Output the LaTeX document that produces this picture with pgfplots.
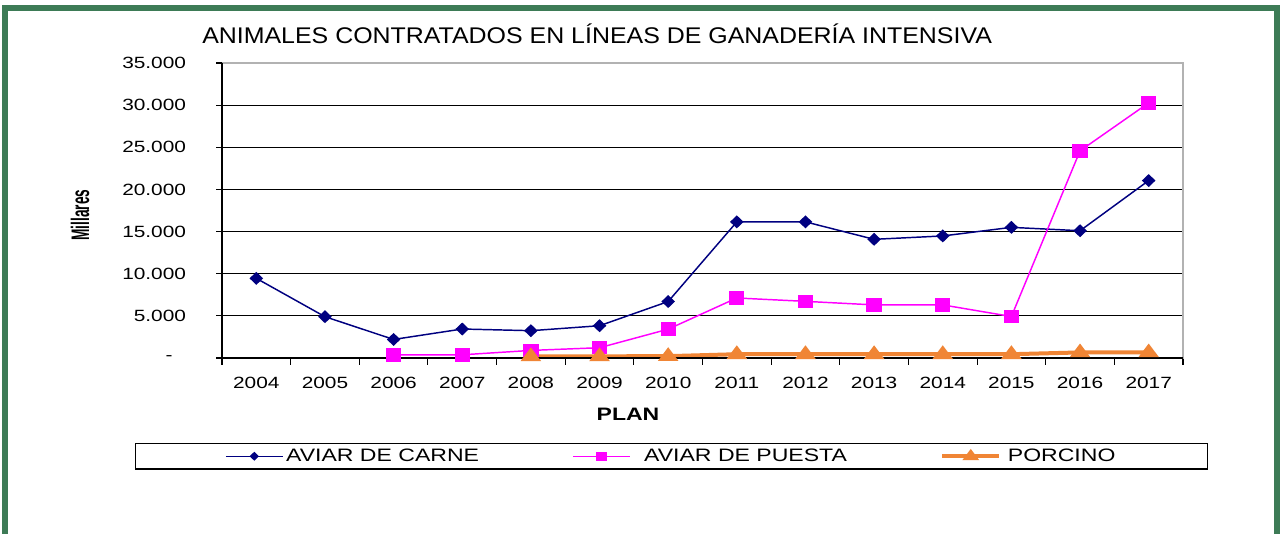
\documentclass[border=0pt]{standalone}
\usepackage{fontspec}
\setmainfont[FakeStretch=1.28]{Liberation Sans}
\newfontfamily\titlefont[FakeStretch=1.1]{Liberation Sans}
\newfontfamily\ylabfont[FakeStretch=0.54]{Liberation Sans}
\usepackage{pgfplots}
\pgfplotsset{compat=1.18}
\definecolor{framegreen}{HTML}{3D7B56}
\definecolor{carne}{HTML}{000080}
\definecolor{puesta}{HTML}{FF00FF}
\definecolor{porcino}{HTML}{F08535}
\newcommand{\ticksize}{\fontsize{12.2pt}{14pt}\selectfont}
\newcommand{\legsize}{\fontsize{13.5pt}{15pt}\selectfont}

\begin{document}
\begin{tikzpicture}
\useasboundingbox (0,0) rectangle (961.5pt,399.75pt);
\begin{scope}
  \clip (0,0) rectangle (961.5pt,399.75pt);
  \fill[white] (0,0) rectangle (961.5pt,399.75pt);
  \draw[framegreen, line width=4.5pt] (3.75pt,-5pt) -- (3.75pt,393.75pt) -- (957.4pt,393.75pt) -- (957.4pt,-5pt);
\end{scope}

\begin{axis}[
    scale only axis,
    width=720.75pt, height=221.25pt,
    at={(166.5pt,131.25pt)}, anchor=south west,
    xmin=-0.5, xmax=13.5, ymin=0, ymax=35000,
    xtick={0,...,13},
    xticklabels={2004,2005,2006,2007,2008,2009,2010,2011,2012,2013,2014,2015,2016,2017},
    minor xtick={-0.5,0.5,...,13.5},
    major x tick style={draw=none},
    ytick={0,5000,...,30000},
    yticklabels={-\hspace*{10pt},5.000,10.000,15.000,20.000,25.000,30.000},
    extra y ticks={35000},
    extra y tick labels={35.000},
    extra y tick style={grid=none},
    ymajorgrids,
    grid style={black, line width=0.8pt},
    axis line style={draw=gray!60, line width=1pt},
    tick align=outside, xtick pos=bottom, ytick pos=left,
    major tick length=4.5pt, minor tick length=5pt,
    tick style={black, line width=0.8pt},
    ticklabel style={font=\ticksize},
    xticklabel style={yshift=-6.5pt},
    yticklabel style={xshift=-19pt},
    scaled y ticks=false,
    clip=false,
    title={ANIMALES CONTRATADOS EN LÍNEAS DE GANADERÍA INTENSIVA},
    title style={at={(axis description cs:-0.0208,1.0373)}, anchor=base west, inner sep=0pt,
      font=\titlefont\fontsize{17pt}{19pt}\selectfont},
    xlabel={PLAN},
    xlabel style={at={(axis description cs:0.4225,-0.1898)}, anchor=center, inner sep=0pt,
      font=\bfseries\fontsize{13.5pt}{15pt}\selectfont},
    ylabel={Millares},
    ylabel style={at={(axis description cs:-0.1478,0.4847)}, anchor=center, rotate=0, inner sep=0pt,
      font=\ylabfont\bfseries\fontsize{19pt}{21pt}\selectfont},
    legend columns=3,
    legend cell align=left,
    legend style={at={(axis description cs:-0.0905,-0.288)}, anchor=north west,
      draw=black, line width=1pt, inner xsep=67pt, inner ysep=2pt, font=\legsize,
      /tikz/every even column/.append style={column sep=68pt}},
]
\addplot[carne, line width=1.1pt, mark=diamond*, mark size=4.1pt, mark options={xscale=1.4},
  legend image code/.code={\draw[mark size=2.6pt, mark repeat=2, mark phase=2]
    plot coordinates {(0pt,0pt) (21.4pt,0pt) (42.75pt,0pt)};}]
  coordinates {(0,9450) (1,4900) (2,2200) (3,3440) (4,3240) (5,3830) (6,6700)
               (7,16150) (8,16150) (9,14080) (10,14480) (11,15500) (12,15100) (13,21050)};
\addlegendentry{AVIAR DE CARNE}
\addplot[puesta, line width=1.1pt, mark=square*, mark size=4.5pt, mark options={xscale=1.15},
  legend image code/.code={\draw[mark size=3pt, mark repeat=2, mark phase=2]
    plot coordinates {(0pt,0pt) (21.4pt,0pt) (42.75pt,0pt)};}]
  coordinates {(2,380) (3,380) (4,900) (5,1220) (6,3420) (7,7120) (8,6720)
               (9,6300) (10,6300) (11,4920) (12,24580) (13,30270)};
\addlegendentry{\hspace*{8pt}AVIAR DE PUESTA}
\addplot[porcino, line width=3pt, mark=triangle*, mark size=4.2pt, mark options={xscale=1.3},
  legend image code/.code={\draw[mark size=3pt, mark repeat=2, mark phase=2]
    plot coordinates {(0pt,0pt) (21.4pt,0pt) (42.75pt,0pt)};}]
  coordinates {(4,200) (5,200) (6,220) (7,450) (8,450) (9,450) (10,450) (11,450) (12,660) (13,660)};
\addlegendentry{\hspace*{3pt}PORCINO}
\draw[black, line width=1pt] (rel axis cs:0,1) -- (rel axis cs:0,0) -- (rel axis cs:1,0);
\end{axis}
\end{tikzpicture}
\end{document}
